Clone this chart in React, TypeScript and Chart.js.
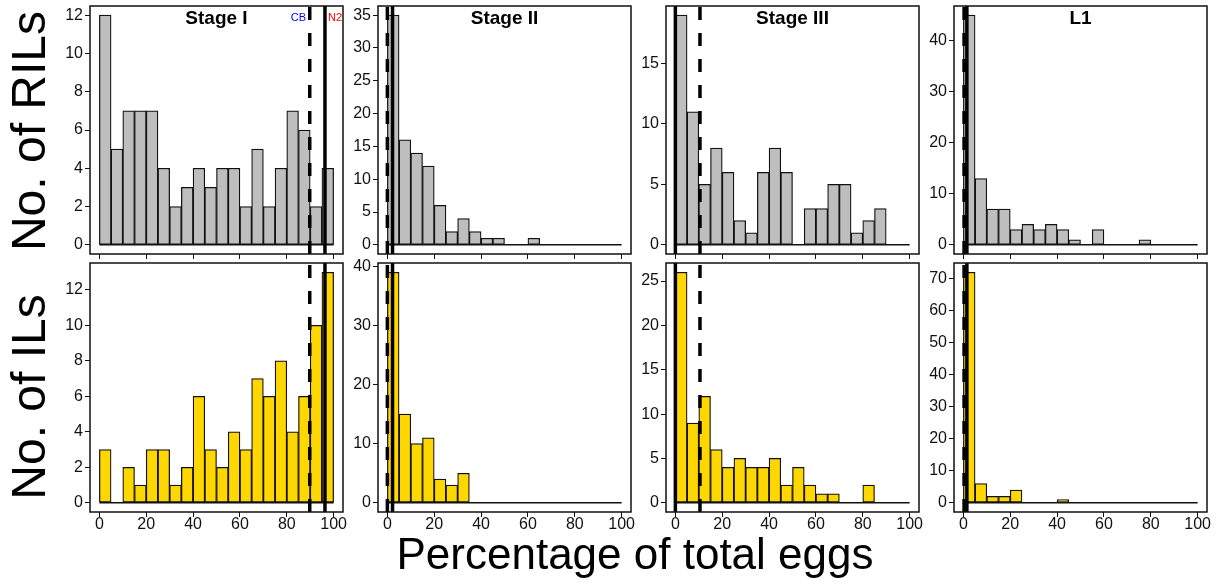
import React, { useEffect, useRef } from 'react';
import { Chart, registerables } from 'chart.js';

Chart.register(...registerables);

// ---------- data ----------
const binCenters = [2.5, 7.5, 12.5, 17.5, 22.5, 27.5, 32.5, 37.5, 42.5, 47.5, 52.5, 57.5, 62.5, 67.5, 72.5, 77.5, 82.5, 87.5, 92.5, 97.5];
const histRange = [0, 100];
const xLimits = [-4, 104];
const xTicks = [0, 20, 40, 60, 80, 100];

const stageNames = ['Stage I', 'Stage II', 'Stage III', 'L1'];

const rilStageI = [12, 5, 7, 7, 7, 4, 2, 3, 4, 3, 4, 4, 2, 5, 2, 4, 7, 6, 2, 4];
const rilStageII = [35, 16, 14, 12, 6, 2, 4, 2, 1, 1, 0, 0, 1, 0, 0, 0, 0, 0, 0, 0];
const rilStageIII = [19, 11, 5, 8, 6, 2, 1, 6, 8, 6, 0, 3, 3, 5, 5, 1, 2, 3, 0, 0];
const rilL1 = [45, 13, 7, 7, 3, 4, 3, 4, 3, 1, 0, 3, 0, 0, 0, 1, 0, 0, 0, 0];

const ilStageI = [3, 0, 2, 1, 3, 3, 1, 2, 6, 3, 2, 4, 3, 7, 6, 8, 4, 6, 10, 13];
const ilStageII = [39, 15, 10, 11, 4, 3, 5, 0, 0, 0, 0, 0, 0, 0, 0, 0, 0, 0, 0, 0];
const ilStageIII = [26, 9, 12, 6, 4, 5, 4, 4, 5, 2, 4, 2, 1, 1, 0, 0, 2, 0, 0, 0];
const ilL1 = [72, 6, 2, 2, 4, 0, 0, 0, 1, 0, 0, 0, 0, 0, 0, 0, 0, 0, 0, 0];

const yTicksRilStageI = [0, 2, 4, 6, 8, 10, 12];
const yTicksRilStageII = [0, 5, 10, 15, 20, 25, 30, 35];
const yTicksRilStageIII = [0, 5, 10, 15];
const yTicksRilL1 = [0, 10, 20, 30, 40];
const yTicksIlStageI = [0, 2, 4, 6, 8, 10, 12];
const yTicksIlStageII = [0, 10, 20, 30, 40];
const yTicksIlStageIII = [0, 5, 10, 15, 20, 25];
const yTicksIlL1 = [0, 10, 20, 30, 40, 50, 60, 70];

// parental reference values (CB dashed, N2 solid)
const cbValues = [89.8, 0, 10.5, 0.3];
const n2Values = [96.3, 2.2, 0, 1.5];

// ---------- layout / style ----------
const FONT = "'Liberation Sans', Arial, Helvetica, sans-serif";
const GRAY = '#bebebe';
const GOLD = '#ffd700';
const colLefts = [90, 378, 666, 954];
const BOX_W = 253;
const rowTops = [6, 263];
const rowHeights = [250, 249];
const YW = 40;
const PT = 10;
const PR = 12;
const XH_TOP = 8;
const XH_BOTTOM = 34;

const boxPlugin = {
  id: 'box',
  afterDraw(chart: any) {
    const { ctx, chartArea: a } = chart;
    ctx.save();
    ctx.strokeStyle = '#111';
    ctx.lineWidth = 1.5;
    ctx.strokeRect(a.left, a.top, a.right - a.left, a.bottom - a.top);
    ctx.restore();
  },
};

type PanelProps = {
  counts: number[];
  yTicks: number[];
  fill: string;
  cb: number;
  n2: number;
  showXLabels: boolean;
  left: number;
  top: number;
  height: number;
};

function Panel(p: PanelProps) {
  const ref = useRef<HTMLCanvasElement | null>(null);
  const xh = p.showXLabels ? XH_BOTTOM : XH_TOP;
  const cw = YW + BOX_W + PR;
  const chh = PT + p.height + xh;

  useEffect(() => {
    if (!ref.current) return;
    const maxCount = Math.max(...p.counts);
    const yMin = -0.04 * maxCount;
    const yMax = 1.04 * maxCount;
    const tickFont = { family: FONT, size: 16, lineHeight: 1 };
    const chart = new Chart(ref.current, {
      type: 'bar',
      data: {
        datasets: [
          {
            type: 'bar',
            data: binCenters.map((x, i) => ({ x, y: p.counts[i] })),
            backgroundColor: p.fill,
            borderColor: '#111',
            borderWidth: 1.25,
            borderSkipped: false,
            barPercentage: 1,
            categoryPercentage: 1,
            order: 3,
          } as any,
          {
            type: 'line',
            data: histRange.map((x) => ({ x, y: 0 })),
            borderColor: '#111',
            borderWidth: 1.5,
            pointRadius: 0,
            order: 2,
          } as any,
          {
            type: 'line',
            data: [
              { x: p.cb, y: yMin },
              { x: p.cb, y: yMax },
            ],
            borderColor: '#000',
            borderWidth: 3.5,
            borderDash: [13, 13],
            pointRadius: 0,
            order: 1,
          } as any,
          {
            type: 'line',
            data: [
              { x: p.n2, y: yMin },
              { x: p.n2, y: yMax },
            ],
            borderColor: '#000',
            borderWidth: 3.5,
            pointRadius: 0,
            order: 0,
          } as any,
        ],
      },
      options: {
        responsive: false,
        animation: false,
        events: [],
        layout: { padding: { top: PT, right: PR, left: 0, bottom: 0 } },
        plugins: {
          legend: { display: false },
          tooltip: { enabled: false },
          title: { display: false },
        },
        scales: {
          x: {
            type: 'linear',
            min: xLimits[0],
            max: xLimits[1],
            offset: false,
            afterBuildTicks: (s: any) => {
              s.ticks = xTicks.map((v) => ({ value: v }));
            },
            afterFit: (s: any) => {
              s.height = xh;
            },
            grid: {
              display: true,
              offset: false,
              drawOnChartArea: false,
              drawTicks: true,
              tickLength: 5,
              color: '#111',
              lineWidth: 1,
            },
            border: { display: false },
            ticks: {
              autoSkip: false,
              maxRotation: 0,
              padding: 0,
              color: '#111',
              font: tickFont,
              callback: (v: any) => (p.showXLabels ? String(v) : ''),
            },
          },
          y: {
            type: 'linear',
            min: yMin,
            max: yMax,
            afterBuildTicks: (s: any) => {
              s.ticks = p.yTicks.map((v) => ({ value: v }));
            },
            afterFit: (s: any) => {
              s.width = YW;
            },
            grid: {
              display: true,
              drawOnChartArea: false,
              drawTicks: true,
              tickLength: 5,
              color: '#111',
              lineWidth: 1,
            },
            border: { display: false },
            ticks: {
              autoSkip: false,
              padding: 2,
              color: '#111',
              font: tickFont,
              callback: (v: any) => String(v),
            },
          },
        },
      } as any,
      plugins: [boxPlugin],
    });
    return () => chart.destroy();
  }, []);

  return (
    <canvas
      ref={ref}
      width={cw}
      height={chh}
      style={{
        position: 'absolute',
        left: p.left - YW,
        top: p.top - PT,
        width: cw,
        height: chh,
      }}
    />
  );
}

const rilCounts = [rilStageI, rilStageII, rilStageIII, rilL1];
const ilCounts = [ilStageI, ilStageII, ilStageIII, ilL1];
const rilTicks = [yTicksRilStageI, yTicksRilStageII, yTicksRilStageIII, yTicksRilL1];
const ilTicks = [yTicksIlStageI, yTicksIlStageII, yTicksIlStageIII, yTicksIlL1];

export default function App() {
  const textBase: React.CSSProperties = {
    position: 'absolute',
    fontFamily: FONT,
    lineHeight: 1,
    whiteSpace: 'nowrap',
    color: '#000',
  };
  return (
    <div style={{ position: 'absolute', left: 0, top: 0, width: 1225, height: 586, background: '#fff', overflow: 'hidden' }}>
      {stageNames.map((name, i) => (
        <Panel
          key={'r' + i}
          counts={rilCounts[i]}
          yTicks={rilTicks[i]}
          fill={GRAY}
          cb={cbValues[i]}
          n2={n2Values[i]}
          showXLabels={false}
          left={colLefts[i]}
          top={rowTops[0]}
          height={rowHeights[0]}
        />
      ))}
      {stageNames.map((name, i) => (
        <Panel
          key={'i' + i}
          counts={ilCounts[i]}
          yTicks={ilTicks[i]}
          fill={GOLD}
          cb={cbValues[i]}
          n2={n2Values[i]}
          showXLabels={true}
          left={colLefts[i]}
          top={rowTops[1]}
          height={rowHeights[1]}
        />
      ))}
      {stageNames.map((name, i) => (
        <div
          key={'t' + i}
          style={{
            ...textBase,
            left: colLefts[i] + BOX_W / 2,
            top: 7.5,
            fontSize: 19,
            fontWeight: 'bold',
            transform: 'translateX(-50%)',
          }}
        >
          {name}
        </div>
      ))}
      <div style={{ ...textBase, left: 298.5, top: 11.5, fontSize: 11, color: '#0000ff', transform: 'translateX(-50%)' }}>CB</div>
      <div style={{ ...textBase, left: 335, top: 11.5, fontSize: 11, color: '#ff0000', transform: 'translateX(-50%)' }}>N2</div>
      <div
        style={{
          ...textBase,
          left: 29,
          top: 131,
          fontSize: 48,
          transform: 'translate(-50%, -50%) rotate(-90deg)',
        }}
      >
        No. of RILs
      </div>
      <div
        style={{
          ...textBase,
          left: 29,
          top: 397,
          fontSize: 48,
          transform: 'translate(-50%, -50%) rotate(-90deg)',
        }}
      >
        No. of ILs
      </div>
      <div
        style={{
          ...textBase,
          left: 635,
          top: 532,
          fontSize: 44,
          transform: 'translateX(-50%)',
        }}
      >
        Percentage of total eggs
      </div>
    </div>
  );
}
